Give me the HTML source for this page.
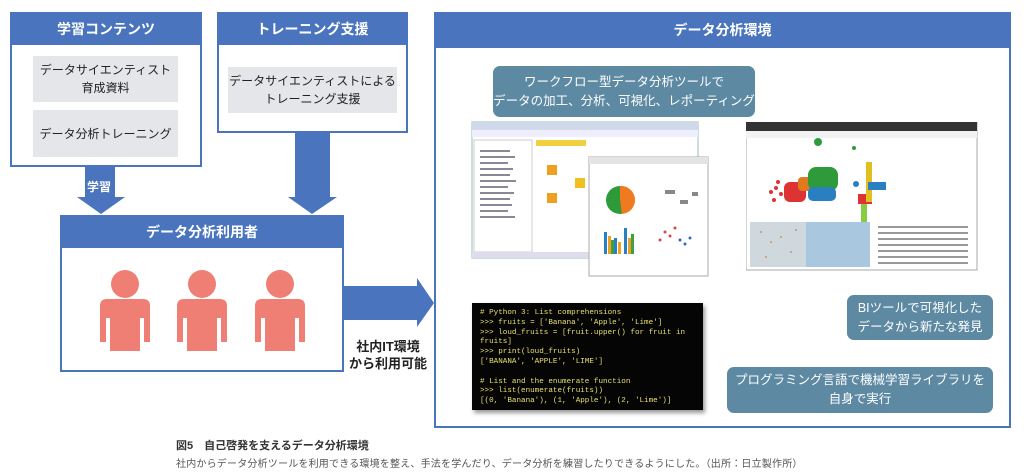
<!DOCTYPE html>
<html><head><meta charset="utf-8"><style>
*{margin:0;padding:0;box-sizing:border-box}
body{width:1024px;height:476px;background:#fff;position:relative;overflow:hidden;font-family:"Liberation Sans","Noto Sans CJK JP",sans-serif}
.a{position:absolute}
.box{position:absolute;border:2px solid #4a74bd;background:#fff}
.hd{position:absolute;background:#4a74bd;color:#fff;font-weight:bold;font-size:14px;display:flex;align-items:center;justify-content:center}
.gr{position:absolute;background:#e4e6ea;color:#222;font-size:12px;display:flex;align-items:center;justify-content:center;text-align:center;line-height:18px;white-space:nowrap}
.co{position:absolute;background:#5d89a3;color:#fff;font-size:12.5px;border-radius:7px;display:flex;align-items:center;justify-content:center;text-align:center;line-height:19px;white-space:nowrap}
.code{position:absolute;background:#050505;color:#e8e06a;font-family:"Liberation Mono",monospace;font-size:7.6px;line-height:9.8px;padding:6px 8px;white-space:pre;box-shadow:2px 3px 4px #999;overflow:hidden}
</style></head><body>

<div class="box" style="left:10px;top:12px;width:192px;height:155px"></div>
<div class="hd" style="left:10px;top:12px;width:192px;height:33px">学習コンテンツ</div>
<div class="gr" style="left:33px;top:56px;width:145px;height:46px">データサイエンティスト<br>育成資料</div>
<div class="gr" style="left:33px;top:110px;width:145px;height:47px">データ分析トレーニング</div>

<div class="box" style="left:217px;top:12px;width:191px;height:121px"></div>
<div class="hd" style="left:217px;top:12px;width:191px;height:33px">トレーニング支援</div>
<div class="gr" style="left:228px;top:67px;width:169px;height:46px">データサイエンティストによる<br>トレーニング支援</div>

<svg class="a" style="left:0;top:0" width="1024" height="476">
<polygon points="85,167 115,167 115,197 125,197 101,214 77,197 85,197" fill="#4a74bd"/>
<polygon points="295,133 330,133 330,197 337,197 312,214 288,197 295,197" fill="#4a74bd"/>
<polygon points="343,286 417,286 417,278 434,303 417,327 417,320 343,320" fill="#4a74bd"/>
<polygon points="585,116 612,116 620,145" fill="#5d89a3"/>
<polygon points="875,297 905,297 808,262" fill="#5d89a3"/>
<polygon points="790,369 850,369 704,330" fill="#5d89a3"/>
</svg>
<div class="a" style="left:87px;top:178px;color:#fff;font-size:12px;font-weight:bold">学習</div>

<div class="box" style="left:60px;top:215px;width:284px;height:157px"></div>
<div class="hd" style="left:60px;top:215px;width:284px;height:33px">データ分析利用者</div>
<svg class="a" style="left:0;top:0" width="400" height="400">
<g fill="#ef7f74">
<circle cx="125" cy="284" r="14"/><path d="M100 306 q0-7 7-7 h36 q7 0 7 7 v36 h-6 v-24 h-4 v33 h-30 v-33 h-4 v24 h-6z"/>
<circle cx="202" cy="284" r="14"/><path d="M177 306 q0-7 7-7 h36 q7 0 7 7 v36 h-6 v-24 h-4 v33 h-30 v-33 h-4 v24 h-6z"/>
<circle cx="280" cy="284" r="14"/><path d="M255 306 q0-7 7-7 h36 q7 0 7 7 v36 h-6 v-24 h-4 v33 h-30 v-33 h-4 v24 h-6z"/>
</g></svg>
<div class="a" style="left:346px;top:338px;width:84px;text-align:center;font-size:13px;font-weight:bold;line-height:17px;color:#222">社内IT環境<br>から利用可能</div>

<div class="box" style="left:434px;top:12px;width:577px;height:416px"></div>
<div class="hd" style="left:434px;top:12px;width:577px;height:36px">データ分析環境</div>

<svg class="a" style="left:470px;top:120px" width="245" height="160">
<rect x="2" y="2" width="226" height="136" fill="#fff" stroke="#9bb" />
<rect x="2" y="2" width="226" height="8" fill="#cfd9ea"/>
<rect x="2" y="10" width="226" height="7" fill="#eef"/>
<rect x="4" y="20" width="58" height="112" fill="#fff" stroke="#ccc"/>
<g fill="#889">
<rect x="10" y="30" width="30" height="2"/><rect x="10" y="36" width="35" height="2"/><rect x="10" y="42" width="28" height="2"/><rect x="10" y="48" width="33" height="2"/><rect x="10" y="54" width="30" height="2"/><rect x="10" y="60" width="36" height="2"/><rect x="10" y="66" width="28" height="2"/><rect x="10" y="72" width="34" height="2"/><rect x="10" y="78" width="30" height="2"/><rect x="10" y="84" width="32" height="2"/><rect x="10" y="90" width="28" height="2"/><rect x="10" y="96" width="35" height="2"/></g>
<rect x="66" y="20" width="50" height="6" fill="#f0d040"/>
<rect x="77" y="45" width="10" height="10" fill="#f0a020"/><rect x="77" y="73" width="10" height="10" fill="#f0a020"/><rect x="105" y="58" width="10" height="10" fill="#f0c020"/>
<rect x="2" y="132" width="226" height="6" fill="#dde"/>
<rect x="119" y="37" width="119" height="119" fill="#fff" stroke="#aaa"/>
<rect x="119" y="37" width="119" height="7" fill="#e4e4e4"/>
<circle cx="150" cy="80" r="14" fill="#2e9a3a"/><path d="M150 80 L150 66 A14 14 0 0 1 152 94Z" fill="#f07a20"/>
<g fill="#2a7fc0"><rect x="134" y="112" width="3" height="22"/><rect x="144" y="118" width="3" height="16"/><rect x="154" y="108" width="3" height="26"/></g>
<g fill="#f0a020"><rect x="138" y="116" width="3" height="18"/><rect x="148" y="122" width="3" height="12"/><rect x="158" y="118" width="3" height="16"/></g>
<g fill="#3aa04a"><rect x="141" y="120" width="3" height="14"/><rect x="161" y="114" width="3" height="20"/></g>
<g fill="#d44"><circle cx="190" cy="120" r="1.5"/><circle cx="195" cy="112" r="1.5"/><circle cx="200" cy="116" r="1.5"/><circle cx="205" cy="108" r="1.5"/></g>
<g fill="#36c"><circle cx="210" cy="120" r="1.5"/><circle cx="215" cy="124" r="1.5"/><circle cx="220" cy="118" r="1.5"/></g>
<g fill="#888"><rect x="195" y="70" width="10" height="4"/><rect x="210" y="80" width="8" height="4"/><rect x="222" y="72" width="6" height="4"/></g>
</svg>

<svg class="a" style="left:746px;top:122px" width="232" height="150">
<rect x="0" y="0" width="231" height="148" fill="#fff" stroke="#aaa"/>
<rect x="0" y="0" width="231" height="9" fill="#333"/>
<rect x="0" y="9" width="231" height="7" fill="#f2f2f2"/>
<g fill="#d33"><circle cx="25" cy="70" r="2"/><circle cx="30" cy="66" r="2"/><circle cx="35" cy="72" r="2"/><circle cx="40" cy="68" r="2"/><circle cx="45" cy="74" r="2"/><circle cx="32" cy="60" r="2"/><circle cx="48" cy="64" r="2"/><circle cx="28" cy="78" r="2"/></g>
<rect x="38" y="60" width="22" height="20" fill="#d33" rx="6"/>
<rect x="52" y="55" width="14" height="14" fill="#e07a20" rx="4"/>
<rect x="62" y="45" width="30" height="24" fill="#2e9a3a" rx="8"/>
<rect x="62" y="65" width="28" height="14" fill="#2a7fc0" rx="5"/>
<circle cx="72" cy="20" r="4" fill="#2e9a3a"/><circle cx="110" cy="62" r="3" fill="#2a7fc0"/><circle cx="108" cy="26" r="2" fill="#2e9a3a"/>
<g><rect x="112" y="72" width="14" height="10" fill="#d33"/><rect x="120" y="40" width="6" height="40" fill="#e0c020"/><rect x="122" y="60" width="18" height="8" fill="#2a7fc0"/><rect x="115" y="82" width="6" height="30" fill="#8c4"/></g>
<rect x="4" y="100" width="120" height="45" fill="#cfd8dc"/>
<rect x="60" y="100" width="64" height="45" fill="#a9c8e0"/>
<g fill="#c96"><circle cx="15" cy="110" r="1"/><circle cx="25" cy="120" r="1"/><circle cx="35" cy="115" r="1"/><circle cx="45" cy="130" r="1"/><circle cx="20" cy="135" r="1"/><circle cx="50" cy="108" r="1"/></g>
<g fill="#999"><rect x="132" y="104" width="90" height="2"/><rect x="132" y="110" width="90" height="2"/><rect x="132" y="116" width="90" height="2"/><rect x="132" y="122" width="90" height="2"/><rect x="132" y="128" width="90" height="2"/><rect x="132" y="134" width="90" height="2"/><rect x="132" y="140" width="90" height="2"/></g>
</svg>

<div class="co" style="left:493px;top:66px;width:262px;height:51px">ワークフロー型データ分析ツールで<br>データの加工、分析、可視化、レポーティング</div>
<div class="co" style="left:847px;top:295px;width:146px;height:45px">BIツールで可視化した<br>データから新たな発見</div>
<div class="co" style="left:727px;top:367px;width:266px;height:46px">プログラミング言語で機械学習ライブラリを<br>自身で実行</div>

<div class="code" style="left:472px;top:303px;width:231px;height:107px"># Python 3: List comprehensions
&gt;&gt;&gt; fruits = ['Banana', 'Apple', 'Lime']
&gt;&gt;&gt; loud_fruits = [fruit.upper() for fruit in
fruits]
&gt;&gt;&gt; print(loud_fruits)
['BANANA', 'APPLE', 'LIME']

# List and the enumerate function
&gt;&gt;&gt; list(enumerate(fruits))
[(0, 'Banana'), (1, 'Apple'), (2, 'Lime')]</div>

<div class="a" style="left:176px;top:437px;font-size:11px;font-weight:bold;color:#333">図5　自己啓発を支えるデータ分析環境</div>
<div class="a" style="left:176px;top:455px;font-size:10px;color:#555;letter-spacing:0.2px">社内からデータ分析ツールを利用できる環境を整え、手法を学んだり、データ分析を練習したりできるようにした。（出所：日立製作所）</div>
</body></html>
